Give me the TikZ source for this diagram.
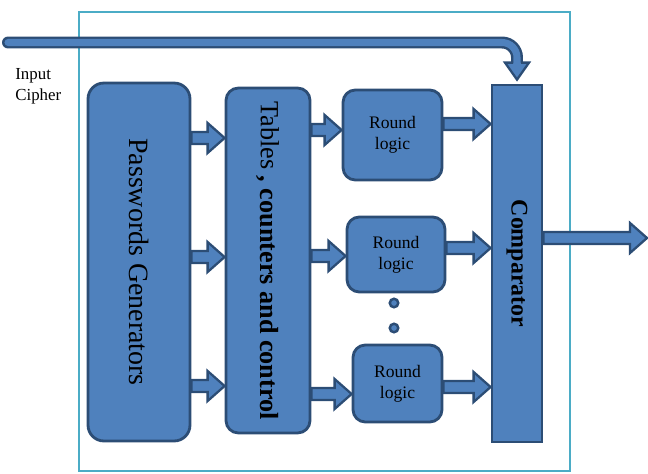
\documentclass[tikz,border=0pt]{standalone}
\usepackage{fontspec}
\setmainfont{Liberation Serif}
\usetikzlibrary{positioning, calc}

\definecolor{boxfill}{HTML}{4F81BD}
\definecolor{boxedge}{HTML}{2C4D75}
\definecolor{framecol}{HTML}{4BACC6}

\begin{document}
\begin{tikzpicture}[x=0.02cm, y=-0.02cm,
	blockbox/.style={draw=boxedge, fill=boxfill, line width=1.6pt, inner sep=0pt},
	roundbox/.style={blockbox, rounded corners=7pt},
	dotmark/.style={draw=boxedge, fill=boxfill, line width=1.4pt, circle, minimum size=0.17cm, inner sep=0pt},
	blockarrow/.style={draw=boxedge, fill=boxfill, line width=1.3pt,
		to path={let \p1=(\tikztostart), \p2=(\tikztotarget) in
			(\x1,\y1+0.12cm) -- (\x2-0.34cm,\y1+0.12cm) -- (\x2-0.34cm,\y1+0.3cm) -- (\x2,\y1)
			-- (\x2-0.34cm,\y1-0.3cm) -- (\x2-0.34cm,\y1-0.12cm) -- (\x1,\y1-0.12cm) -- cycle}},
	busline/.style={draw=boxedge, line width=1.4pt, double=boxfill, double distance=4pt, line cap=round, rounded corners=0.3cm}
	]
	\useasboundingbox (0,0) rectangle (648,473);
	
	% outer frame
	\draw[framecol, line width=1.4pt] (79,12) rectangle (570,471);
	
	% main blocks
	\node[roundbox, rounded corners=9pt, minimum width=2.04cm, minimum height=7.16cm] (pg) at (139,262) {};
	\node[rotate=-90, font=\fontsize{15.9}{18}\selectfont] (pgtext) at (pg) {Passwords Generators};
	
	\node[roundbox, minimum width=1.68cm, minimum height=6.9cm] (tab) at (268,260.5) {};
	\node[rotate=-90, font=\fontsize{14.9}{18}\selectfont] (tabtext) at (tab) {Tables \textbf{, counters and control}};
	
	\node[roundbox, minimum width=1.98cm, minimum height=1.8cm, align=center, font=\fontsize{10}{12}\selectfont] (rl1) at (392.5,135) {Round\\logic};
	\node[roundbox, minimum width=1.96cm, minimum height=1.5cm, align=center, font=\fontsize{10}{12}\selectfont] (rl2) at (396,254.5) {Round\\logic};
	\node[roundbox, minimum width=1.78cm, minimum height=1.54cm, align=center, font=\fontsize{10}{12}\selectfont] (rl3) at (397.5,383.5) {Round\\logic};
	
	\node[dotmark] (dot1) at (394,303) {};
	\node[dotmark] (dot2) at (394,328) {};
	
	\node[blockbox, minimum width=1cm, minimum height=7.14cm] (comp) at (517,263.5) {};
	\node[rotate=-90, font=\bfseries\fontsize{13.6}{16}\selectfont] (comptext) at (comp) {Comparator};
	
	% input cipher
	\node[anchor=north west, align=left, inner sep=0pt, font=\fontsize{9.6}{12}\selectfont] (cipher) at (15,68) {Input\\Cipher};
	\coordinate (cin) at (8,42.5);
	\draw[busline] (cin) -- (comp.north |- cin) -- ($(comp.north)+(0,-21)$);
	\filldraw[draw=boxedge, fill=boxfill, line width=1.3pt]
		($(comp.north)+(-4,-21)$) -- ++(-8,0) -- ($(comp.north)+(0,-4)$) -- ($(comp.north)+(12,-21)$) -- ++(-8,0);
	
	% arrows
	\draw[blockarrow] (pg.east |- 0,138) to (tab.west |- 0,138);
	\draw[blockarrow] (pg.east |- 0,257) to (tab.west |- 0,257);
	\draw[blockarrow] (pg.east |- 0,386) to (tab.west |- 0,386);
	
	\draw[blockarrow] (tab.east |- 0,130) to (rl1.west |- 0,130);
	\draw[blockarrow] (tab.east |- 0,256) to (rl2.west |- 0,256);
	\draw[blockarrow] (tab.east |- 0,394) to (rl3.west |- 0,394);
	
	\draw[blockarrow] (rl1.east |- 0,124) to (comp.west |- 0,124);
	\draw[blockarrow] (rl2.east |- 0,248) to (comp.west |- 0,248);
	\draw[blockarrow] (rl3.east |- 0,387) to (comp.west |- 0,387);
	
	% output
	\coordinate (cout) at (647,238);
	\draw[blockarrow] (comp.east |- cout) to (cout);
	
\end{tikzpicture}
\end{document}
